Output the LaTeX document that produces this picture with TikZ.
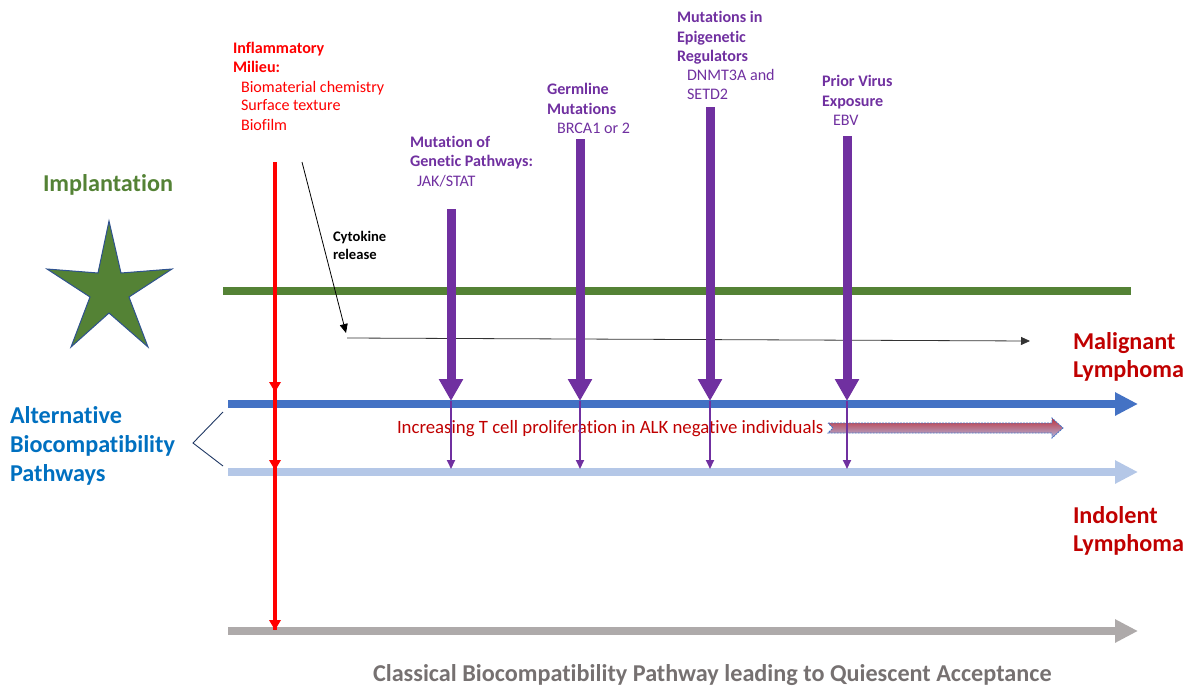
\documentclass[tikz,border=0pt]{standalone}
\usepackage{fontspec}
\setmainfont{Carlito}[Ligatures=NoCommon]
\usetikzlibrary{arrows.meta}
\definecolor{implgreen}{HTML}{548235}
\definecolor{starline}{HTML}{2F528F}
\definecolor{pathblue}{HTML}{4472C4}
\definecolor{paleblue}{HTML}{B4C7E7}
\definecolor{quietgrey}{HTML}{AEAAAA}
\definecolor{textgrey}{HTML}{767171}
\definecolor{mutpurple}{HTML}{7030A0}
\definecolor{darkred}{HTML}{C00000}
\definecolor{altblue}{HTML}{0070C0}
\definecolor{navy}{HTML}{203864}
\definecolor{milieured}{HTML}{FF0000}
\begin{document}
\begin{tikzpicture}[x=1pt,y=-1pt,
  lbl/.style={anchor=base west, inner sep=0pt, outer sep=0pt},
  big/.style={lbl, font=\fontsize{24.2}{29}\selectfont\bfseries},
  head/.style={lbl, font=\fontsize{16.1}{19}\selectfont\bfseries},
  sub/.style={lbl, font=\fontsize{16.1}{19}\selectfont},
  pathway/.style={line width=8pt, -{Triangle[length=23pt,width=22pt]}},
  factor/.style={draw=mutpurple, line width=9pt, -{Triangle[length=22pt,width=23pt]}},
  factorthin/.style={draw=mutpurple, line width=2pt, -{Triangle[length=9pt,width=8pt]}},
  thinarrow/.style={line width=0.8pt, -{Triangle[length=9pt,width=8pt]}},
  milieu/.style={draw=milieured, line width=3.5pt},
  redtip/.style={fill=milieured},
  ]
\useasboundingbox (0,0) rectangle (1192,688);

% ---- star marking the implantation ----
\filldraw[fill=implgreen, draw=starline, line width=1pt, line join=miter]
  (109,221) -- (121,273) -- (172,269) -- (129,297) -- (148,347)
  -- (109,313) -- (71,347) -- (90,297) -- (47,269) -- (98,273) -- cycle;
\node[big, text=implgreen] (impl) at (43,191) {Implantation};

% ---- implantation baseline ----
\coordinate (gL) at (223,291);
\coordinate (gR) at (1131,291);
\draw[implgreen, line width=7.5pt] (gL) -- (gR);

% ---- cytokine release ----
\coordinate (cytA) at (302,162);
\coordinate (cytB) at (346,333);
\coordinate (relA) at (347,338);
\coordinate (relB) at (1030,341);
\draw[thinarrow, black] (cytA) -- (cytB);
\draw[thinarrow, black!80] (relA) -- (relB);
\node[lbl, font=\fontsize{14.6}{17}\selectfont\bfseries] (cyt1) at (333,241) {Cytokine};
\node[lbl, font=\fontsize{14.6}{17}\selectfont\bfseries] (cyt2) at (333,259) {release};

% ---- outcome pathways ----
\coordinate (mL) at (228,404);
\coordinate (mR) at (1138,404);
\coordinate (iL) at (228,472);
\coordinate (iR) at (1138,472);
\coordinate (qL) at (228,631);
\coordinate (qR) at (1138,631);
\draw[pathway, pathblue] (mL) -- (mR);
\draw[pathway, paleblue] (iL) -- (iR);
\draw[pathway, quietgrey] (qL) -- (qR);

% ---- alternative pathways bracket ----
\node[big, text=altblue] (alt1) at (10,423) {Alternative};
\node[big, text=altblue] (alt2) at (10,452) {Biocompatibility};
\node[big, text=altblue] (alt3) at (10,481) {Pathways};
\coordinate (brT) at (223,412);
\coordinate (brV) at (193,443);
\coordinate (brB) at (223,466);
\draw[navy, line width=0.9pt] (brT) -- (brV) -- (brB);

% ---- proliferation arrow ----
\node[lbl, text=darkred, font=\fontsize{18.8}{22}\selectfont] (prolif) at (397,433)
  {Increasing T cell proliferation in ALK negative individuals};
\shade[top color={rgb,255:red,192;green,50;blue,60}, bottom color={rgb,255:red,175;green,185;blue,225}]
  (828,423) -- (1052,423) -- (1052,418) -- (1063,428) -- (1052,438)
  -- (1052,433) -- (828,433) -- (833,428) -- cycle;
\draw[pathblue, line width=0.8pt, dash pattern=on 2pt off 1pt]
  (828,423) -- (1052,423) -- (1052,418) -- (1063,428) -- (1052,438)
  -- (1052,433) -- (828,433) -- (833,428) -- cycle;

% ---- outcome labels ----
\node[big, text=darkred] (mal1) at (1073,349) {Malignant};
\node[big, text=darkred] (mal2) at (1073,377) {Lymphoma};
\node[big, text=darkred] (ind1) at (1073,523) {Indolent};
\node[big, text=darkred] (ind2) at (1073,551) {Lymphoma};
\node[big, text=textgrey] (classic) at (373,681)
  {Classical Biocompatibility Pathway leading to Quiescent Acceptance};

% ---- contributing factors ----
\foreach \n/\x/\y in {jak/451/209, brca/580/139, epi/710/107, ebv/847/136}{
  \coordinate (\n top) at (\x,\y);
  \coordinate (\n mid) at (\x,401);
  \coordinate (\n low) at (\x,469);
  \draw[factorthin] (\n mid) -- (\n low);
  \draw[factor] (\n top) -- (\n mid);
}

\node[head, text=mutpurple] (jak1) at (410,147) {Mutation of};
\node[head, text=mutpurple] (jak2) at (410,166) {Genetic Pathways:};
\node[sub,  text=mutpurple] (jak3) at (417,186) {JAK/STAT};

\node[head, text=mutpurple] (brca1) at (547,94) {Germline};
\node[head, text=mutpurple] (brca2) at (547,114) {Mutations};
\node[sub,  text=mutpurple] (brca3) at (557,133) {BRCA1 or 2};

\node[head, text=mutpurple] (epi1) at (677,22) {Mutations in};
\node[head, text=mutpurple] (epi2) at (677,42) {Epigenetic};
\node[head, text=mutpurple] (epi3) at (677,61) {Regulators};
\node[sub,  text=mutpurple] (epi4) at (687,80) {DNMT3A and};
\node[sub,  text=mutpurple] (epi5) at (687,99) {SETD2};

\node[head, text=mutpurple] (ebv1) at (822,86) {Prior Virus};
\node[head, text=mutpurple] (ebv2) at (822,106) {Exposure};
\node[sub,  text=mutpurple] (ebv3) at (833,125) {EBV};

% ---- inflammatory milieu ----
\node[head, text=milieured] (inf1) at (233,53) {Inflammatory};
\node[head, text=milieured] (inf2) at (233,72) {Milieu:};
\node[sub,  text=milieured] (inf3) at (241,92) {Biomaterial chemistry};
\node[sub,  text=milieured] (inf4) at (241,110) {Surface texture};
\node[sub,  text=milieured] (inf5) at (241,130) {Biofilm};

\coordinate (rTop) at (275,162);
\coordinate (rM) at (275,392);
\coordinate (rI) at (275,470);
\coordinate (rQ) at (275,630);
\draw[milieu] (rTop) -- (rQ);
\foreach \t in {rM, rI, rQ}{
  \fill[redtip] (\t) -- ++(-6,-10) -- ++(12,0) -- cycle;
}
\end{tikzpicture}
\end{document}
